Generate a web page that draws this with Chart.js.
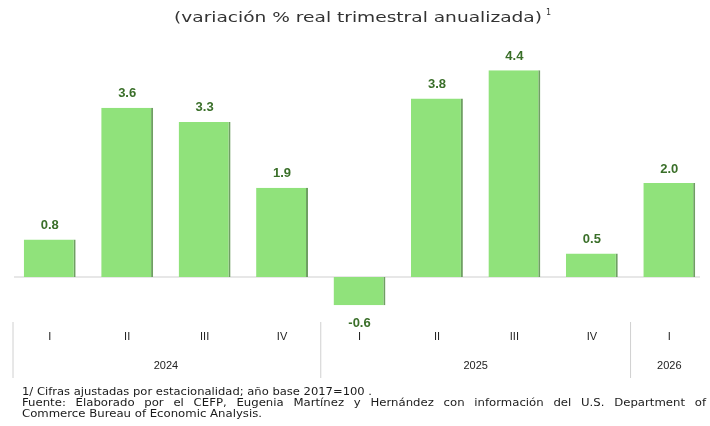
<!DOCTYPE html>
<html><head><meta charset="utf-8">
<script src="https://cdn.jsdelivr.net/npm/chart.js@4"></script>
<style>html,body{margin:0;padding:0;background:#fff}#wrap{width:710px;height:426px;position:relative}</style>
</head><body><div id="wrap"><canvas id="c" width="710" height="426"></canvas></div>
<script>
const quarters = ["I","II","III","IV","I","II","III","IV","I"];
const years = ["2024","2025","2026"];
const yearSpans = [4,4,1];
const values = [0.8,3.6,3.3,1.9,-0.6,3.8,4.4,0.5,2.0];
const valueLabels = ["0.8","3.6","3.3","1.9","-0.6","3.8","4.4","0.5","2.0"];
const titleText = "(variación % real trimestral anualizada)";
const footnotes = [
  "1/ Cifras ajustadas por estacionalidad; año base 2017=100 .",
  "Fuente: Elaborado por el CEFP, Eugenia Martínez y Hernández con información del U.S. Department of",
  "Commerce Bureau of Economic Analysis."
];

function fitText(ctx, text, x, y, target){
  const w = ctx.measureText(text).width;
  const s = target / w;
  ctx.save(); ctx.translate(x, y); ctx.scale(s, 1); ctx.fillText(text, 0, 0); ctx.restore();
  return s;
}

const decor = {
  id:'decor',
  beforeDatasetsDraw(chart){
    const ctx = chart.ctx, y = chart.scales.y;
    const y0 = y.getPixelForValue(0);
    ctx.save();
    ctx.strokeStyle = '#cfcfcf'; ctx.lineWidth = 1.2;
    ctx.beginPath(); ctx.moveTo(chart.chartArea.left+3, y0); ctx.lineTo(chart.chartArea.right-8, y0); ctx.stroke();
    ctx.restore();
  },
  afterDatasetsDraw(chart){
    const ctx = chart.ctx, x = chart.scales.x;
    ctx.save();
    // value labels
    ctx.font = 'bold 13px "Liberation Sans Narrow", "Liberation Sans", sans-serif';
    ctx.fillStyle = '#3a6f29'; ctx.textAlign = 'center'; ctx.textBaseline = 'middle';
    const meta = chart.getDatasetMeta(0);
    meta.data.forEach((b,i)=>{
      const py = values[i] >= 0 ? b.y - 14 : b.y + 18;
      ctx.fillText(valueLabels[i], b.x, py);
    });
    // title
    ctx.font = '14px "DejaVu Sans", sans-serif'; ctx.fillStyle = '#333'; ctx.textAlign = 'left';
    fitText(ctx, titleText, 174, 18, 368);
    ctx.font = '8px "DejaVu Sans", sans-serif';
    ctx.fillText('1', 546, 13);
    // quarter labels
    ctx.textAlign = 'center';
    ctx.font = '11px "Liberation Sans", sans-serif'; ctx.fillStyle = '#222';
    quarters.forEach((q,i)=>{ ctx.fillText(q, x.getPixelForValue(i), 337); });
    // year groups
    const half = (x.getPixelForValue(1) - x.getPixelForValue(0))/2;
    let start = 0;
    ctx.strokeStyle = '#d0d0d0'; ctx.lineWidth = 1;
    years.forEach((yr,k)=>{
      const end = start + yearSpans[k] - 1;
      const xl = x.getPixelForValue(start) - half;
      const xr = x.getPixelForValue(end) + half;
      const lx = xl + (k===0?2:0);
      ctx.beginPath(); ctx.moveTo(lx, 322); ctx.lineTo(lx, 378); ctx.stroke();
      ctx.fillText(yr, (xl+xr)/2, 366);
      start = end + 1;
    });
    // footnotes
    ctx.font = '10px "DejaVu Sans", sans-serif'; ctx.fillStyle = '#1a1a1a'; ctx.textAlign = 'left';
    fitText(ctx, footnotes[0], 22, 392, 350);
    const s = fitText(ctx, footnotes[2], 22, 414, 240);
    const words = footnotes[1].split(' ');
    const wsum = words.reduce((a,w)=>a+ctx.measureText(w).width*s,0);
    const gap = (706 - 22 - wsum)/(words.length-1);
    let cx = 22;
    words.forEach(w=>{
      ctx.save(); ctx.translate(cx, 403); ctx.scale(s,1); ctx.fillText(w, 0, 0); ctx.restore();
      cx += ctx.measureText(w).width*s + gap;
    });
    ctx.restore();
  }
};

new Chart(document.getElementById('c'), {
  type:'bar',
  data:{ labels: quarters.map((q,i)=>q+i), datasets:[{
    data: values,
    backgroundColor:'#90e27b',
    borderColor:'#6f9f63',
    borderWidth:{left:0, right:2, top:0, bottom:0},
    borderSkipped:false,
    categoryPercentage:1, barPercentage:0.67
  }]},
  options:{
    responsive:false, animation:false, devicePixelRatio:1,
    layout:{padding:{left:11, right:2, top:42, bottom:102}},
    plugins:{legend:{display:false}, tooltip:{enabled:false}, title:{display:false}},
    scales:{
      x:{display:false},
      y:{display:false, min:-1, max:5}
    }
  },
  plugins:[decor]
});
</script></body></html>
